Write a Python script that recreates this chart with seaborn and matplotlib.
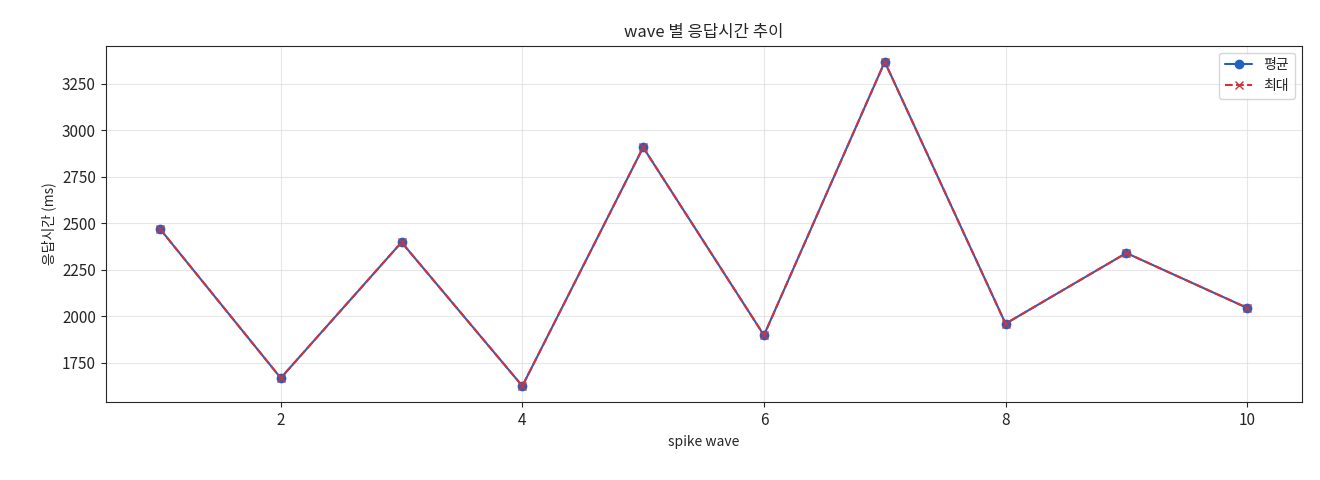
import matplotlib
matplotlib.use("Agg")
import matplotlib.pyplot as plt
import seaborn as sns

waves = [1, 2, 3, 4, 5, 6, 7, 8, 9, 10]
avg_ms = [2470, 1668, 2398, 1625, 2908, 1898, 3368, 1960, 2340, 2045]
max_ms = [2470, 1668, 2398, 1625, 2908, 1898, 3368, 1960, 2340, 2045]

sns.set_style("ticks")
plt.rcParams['font.family'] = ['Noto Sans CJK KR', 'DejaVu Sans']
plt.rcParams['axes.unicode_minus'] = False

fig, ax = plt.subplots(figsize=(13.2, 4.8), dpi=100)
ax.plot(waves, avg_ms, marker="o", color="#1f62c4", label="평균", markersize=6, linewidth=1.5)
ax.plot(waves, max_ms, marker="x", color="#d6303a", linestyle="--", label="최대", markersize=6, linewidth=1.5)
ax.set_title("wave 별 응답시간 추이", fontsize=12)
ax.set_xlabel("spike wave", fontsize=10)
ax.set_ylabel("응답시간 (ms)", fontsize=10)
ax.tick_params(labelsize=11)
ax.grid(True, color="#dddddd", alpha=0.7, linewidth=0.8)
ax.legend(loc="upper right", fontsize=10)
fig.subplots_adjust(left=0.08, right=0.986, top=0.905, bottom=0.162)
fig.savefig("out.png", dpi=100)
